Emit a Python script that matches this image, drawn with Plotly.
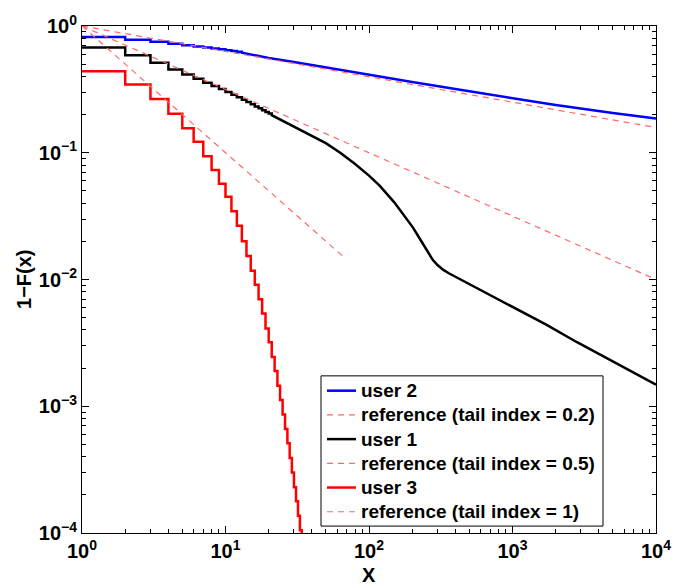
import plotly.graph_objects as go

# ---------------- data ----------------
# user 2 (blue): integer staircase part, then smooth tail
user2_step_x = [1, 2, 3, 4, 5, 6, 7, 8, 9, 10, 11, 12]
user2_step_y = [0.82, 0.78, 0.75, 0.725, 0.705, 0.69, 0.677, 0.665, 0.655, 0.645, 0.635, 0.625]
user2_tail_x = [13, 15, 20, 30, 50, 70, 100, 119, 200, 400, 1000, 2000, 5000, 10000]
user2_tail_y = [0.615, 0.594, 0.56, 0.52, 0.47, 0.44, 0.41, 0.40, 0.362, 0.318, 0.268, 0.238, 0.206, 0.186]

# user 1 (black)
user1_step_x = [1, 2, 3, 4, 5, 6, 7, 8, 9, 10, 11, 12, 13, 14, 15, 16, 17, 18, 19, 20]
user1_step_y = [0.677, 0.587, 0.512, 0.454, 0.415, 0.384, 0.357, 0.336, 0.318, 0.302,
                0.287, 0.274, 0.262, 0.251, 0.241, 0.232, 0.224, 0.2166, 0.210, 0.204]
user1_tail_x = [21, 25, 30, 40, 50, 63, 80, 100, 119, 150, 180, 202, 230, 260, 278, 300,
                330, 360, 450, 590, 1000, 1718, 2815, 5000, 10000]
user1_tail_y = [0.198, 0.179, 0.161, 0.136, 0.119, 0.100, 0.0816, 0.066, 0.0548, 0.0406,
                0.0309, 0.0258, 0.0203, 0.0161, 0.0143, 0.0130, 0.0119, 0.0112, 0.0098,
                0.0083, 0.0060, 0.0044, 0.0032, 0.00225, 0.00148]

# user 3 (red): staircase only
user3_step_x = list(range(1, 35))
user3_step_y = [0.44, 0.345, 0.265, 0.203, 0.156, 0.122, 0.094, 0.073, 0.057, 0.045,
                0.0345, 0.0265, 0.0200, 0.0153, 0.0117, 0.0091, 0.0070, 0.0054, 0.0041,
                0.0032, 0.00245, 0.0019, 0.00145, 0.00112, 0.00086, 0.00066, 0.00051,
                0.00039, 0.0003, 0.00023, 0.000178, 0.000137, 0.000105, 0.00008]
user3_tail_x = []
user3_tail_y = []

# reference power laws (dashed)
ref02_x = [1, 10000]
ref02_y = [1.0, 0.158]
ref05_x = [1, 10000]
ref05_y = [1.0, 0.01]
ref1_x = [1, 66]
ref1_y = [1.0, 0.0152]

# axis ticks
x_tickvals = [1, 10, 100, 1000, 10000]
x_ticktext = ["10<sup>0</sup>", "10<sup>1</sup>", "10<sup>2</sup>", "10<sup>3</sup>", "10<sup>4</sup>"]
y_tickvals = [1e-4, 1e-3, 1e-2, 1e-1, 1]
y_ticktext = ["10<sup>−4</sup>", "10<sup>−3</sup>", "10<sup>−2</sup>", "10<sup>−1</sup>", "10<sup>0</sup>"]

legend_labels = ["user 2", "reference (tail index = 0.2)", "user 1",
                 "reference (tail index = 0.5)", "user 3", "reference (tail index = 1)"]


def staircase(sx, sy, tx, ty):
    xs, ys = [], []
    for i in range(len(sx)):
        nxt = sx[i + 1] if i + 1 < len(sx) else (tx[0] if tx else sx[i] + 1)
        xs += [sx[i], nxt]
        ys += [sy[i], sy[i]]
    xs += list(tx)
    ys += list(ty)
    return xs, ys


FONT = "Liberation Sans, Arial, Helvetica, sans-serif"
DASH_COL = "rgb(255,105,105)"
W, H = 683, 585
ML, MR, MT, MB = 82, 27, 20, 52
PW, PH = W - ML - MR, H - MT - MB


def px2paper(px, py):
    return (px - ML) / PW, (H - MB - py) / PH


fig = go.Figure()

styles = [
    dict(color="#0000ff", width=2.5),
    dict(color=DASH_COL, width=1.2, dash="6px,5px"),
    dict(color="#000000", width=2.5),
    dict(color=DASH_COL, width=1.2, dash="6px,5px"),
    dict(color="#ff0000", width=2.5),
    dict(color=DASH_COL, width=1.2, dash="6px,5px"),
]

bx, by = staircase(user2_step_x, user2_step_y, user2_tail_x, user2_tail_y)
kx, ky = staircase(user1_step_x, user1_step_y, user1_tail_x, user1_tail_y)
rx, ry = staircase(user3_step_x, user3_step_y, user3_tail_x, user3_tail_y)
series = [(bx, by), (ref02_x, ref02_y), (kx, ky), (ref05_x, ref05_y), (rx, ry), (ref1_x, ref1_y)]

for (sx, sy), st, lab in zip(series, styles, legend_labels):
    fig.add_trace(go.Scatter(x=sx, y=sy, mode="lines", name=lab, line=st, showlegend=False))

x_minor = [m * 10 ** k for k in range(0, 4) for m in range(2, 10)]
y_minor = [m * 10.0 ** k for k in range(-4, 0) for m in range(2, 10)]

axis_common = dict(
    showgrid=False, zeroline=False, showline=True, linecolor="black", linewidth=1,
    mirror="allticks", ticks="inside", ticklen=7, tickwidth=1, tickcolor="black",
    tickfont=dict(family=FONT, size=20, color="black", weight="bold"),
)

fig.update_xaxes(type="log", range=[0, 4], tickmode="array",
                 tickvals=x_tickvals, ticktext=x_ticktext,
                 minor=dict(tickmode="array", tickvals=x_minor, ticks="inside",
                            ticklen=4, tickcolor="black", showgrid=False),
                 **axis_common)
fig.update_yaxes(type="log", range=[-4, 0], tickmode="array",
                 tickvals=y_tickvals, ticktext=y_ticktext,
                 minor=dict(tickmode="array", tickvals=y_minor, ticks="inside",
                            ticklen=4, tickcolor="black", showgrid=False),
                 **axis_common)

# axis titles
ax_, ay_ = px2paper(24, 277)
fig.add_annotation(text="1−F(x)", xref="paper", yref="paper", x=ax_, y=ay_,
                   textangle=-90, showarrow=False,
                   font=dict(family=FONT, size=20, color="black", weight="bold"),
                   xanchor="center", yanchor="middle")
bx_, by_ = px2paper(369, 576)
fig.add_annotation(text="X", xref="paper", yref="paper", x=bx_, y=by_,
                   showarrow=False,
                   font=dict(family=FONT, size=20, color="black", weight="bold"),
                   xanchor="center", yanchor="middle")

# legend box drawn by hand (to match entry spacing)
lx0, ly0 = px2paper(321, 526)
lx1, ly1 = px2paper(603, 374)
fig.add_shape(type="rect", xref="paper", yref="paper", x0=lx0, y0=ly0, x1=lx1, y1=ly1,
              line=dict(color="black", width=1), fillcolor="white", layer="above")
for i, (lab, st) in enumerate(zip(legend_labels, styles)):
    cy = 389 + 24.5 * i
    sx0, sy0 = px2paper(327, cy)
    sx1, _ = px2paper(356, cy)
    fig.add_shape(type="line", xref="paper", yref="paper", x0=sx0, x1=sx1, y0=sy0, y1=sy0,
                  line=st, layer="above")
    tx, ty = px2paper(359, cy)
    fig.add_annotation(text=lab, xref="paper", yref="paper", x=tx, y=ty,
                       xanchor="left", yanchor="middle", showarrow=False,
                       font=dict(family=FONT, size=19, color="black", weight="bold"))

fig.update_layout(
    width=W, height=H,
    margin=dict(l=ML, r=MR, t=MT, b=MB),
    paper_bgcolor="white", plot_bgcolor="white",
    showlegend=False,
)

fig.write_html("out.html", config={"displayModeBar": False},
               post_script="document.body.style.margin='0';")
